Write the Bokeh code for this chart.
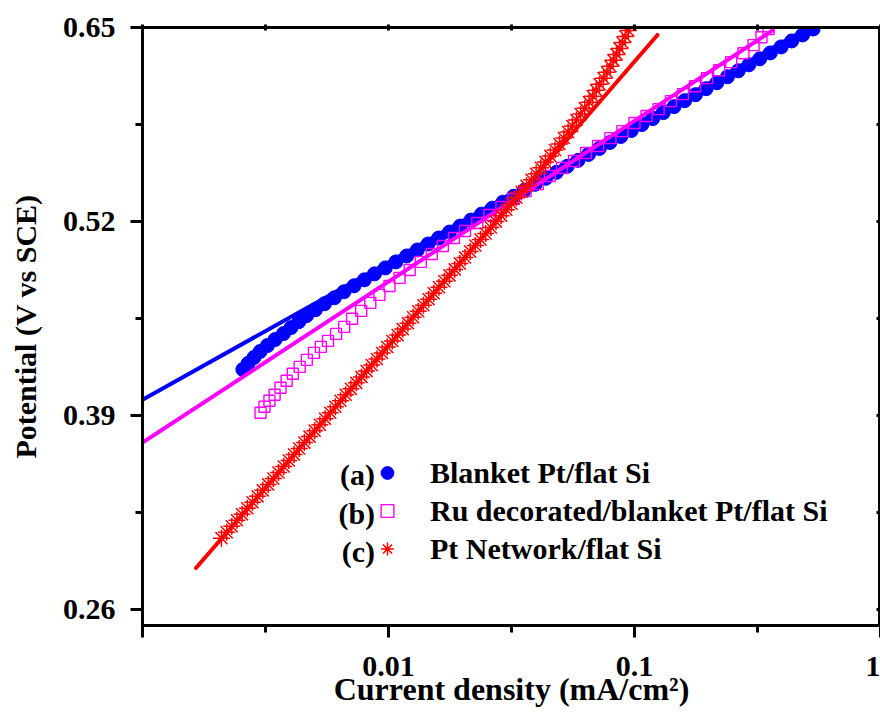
import numpy as np
from bokeh.plotting import figure
from bokeh.models import (Range1d, FixedTicker, LinearAxis, LogAxis, CustomJSTickFormatter,
                          PrintfTickFormatter, Legend, LegendItem, Label)
from bokeh.embed import file_html
from bokeh.resources import INLINE

# ---------------- data ----------------
# (a) Blanket Pt/flat Si : log10(current density, mA/cm2) and potential (V vs SCE)
blanket_log_j = [-2.592, -2.571, -2.547, -2.522, -2.492, -2.461, -2.427, -2.396, -2.364, -2.333,
                 -2.297, -2.260, -2.220, -2.181, -2.140, -2.098, -2.057, -2.013, -1.970, -1.926,
                 -1.883, -1.839, -1.796, -1.752, -1.709, -1.665, -1.622, -1.578, -1.535, -1.491,
                 -1.448, -1.404, -1.361, -1.317, -1.274, -1.230, -1.187, -1.143, -1.100, -1.056,
                 -1.013, -0.970, -0.926, -0.883, -0.839, -0.796, -0.752, -0.709, -0.665, -0.622,
                 -0.578, -0.535, -0.491, -0.448, -0.404, -0.361, -0.317, -0.274]
blanket_v = [0.421, 0.425, 0.429, 0.433, 0.437, 0.441, 0.445, 0.449, 0.453, 0.457,
             0.461, 0.465, 0.469, 0.473, 0.477, 0.481, 0.485, 0.489, 0.493, 0.497,
             0.501, 0.505, 0.509, 0.513, 0.517, 0.521, 0.525, 0.529, 0.533, 0.537,
             0.541, 0.545, 0.549, 0.553, 0.557, 0.561, 0.565, 0.569, 0.573, 0.577,
             0.581, 0.585, 0.589, 0.593, 0.597, 0.601, 0.605, 0.609, 0.613, 0.617,
             0.621, 0.625, 0.629, 0.633, 0.637, 0.641, 0.645, 0.649]

# (b) Ru decorated/blanket Pt/flat Si
ru_log_j = [-2.520, -2.504, -2.484, -2.463, -2.439, -2.414, -2.389, -2.361, -2.332, -2.303,
            -2.275, -2.246, -2.213, -2.180, -2.148, -2.111, -2.074, -2.037, -1.996, -1.955,
            -1.914, -1.869, -1.824, -1.779, -1.734, -1.689, -1.639, -1.590, -1.541, -1.492,
            -1.443, -1.393, -1.344, -1.295, -1.246, -1.197, -1.148, -1.098, -1.049, -1.000,
            -0.951, -0.902, -0.852, -0.803, -0.754, -0.705, -0.656, -0.607, -0.557, -0.516,
            -0.484, -0.455]
ru_v = [0.3920, 0.3960, 0.4000, 0.4040, 0.4087, 0.4134, 0.4181, 0.4227, 0.4274, 0.4321,
        0.4361, 0.4401, 0.4448, 0.4495, 0.4549, 0.4602, 0.4656, 0.4709, 0.4769, 0.4823,
        0.4876, 0.4930, 0.4983, 0.5037, 0.5090, 0.5137, 0.5191, 0.5244, 0.5298, 0.5351,
        0.5405, 0.5452, 0.5505, 0.5559, 0.5606, 0.5659, 0.5706, 0.5759, 0.5806, 0.5860,
        0.5907, 0.5953, 0.6007, 0.6054, 0.6107, 0.6161, 0.6214, 0.6268, 0.6328, 0.6382,
        0.6435, 0.6489]

# (c) Pt Network/flat Si
net_log_j = [-2.679, -2.658, -2.637, -2.616, -2.595, -2.574, -2.553, -2.532, -2.511, -2.489,
             -2.468, -2.447, -2.426, -2.405, -2.384, -2.363, -2.342, -2.321, -2.300, -2.279,
             -2.258, -2.237, -2.216, -2.195, -2.174, -2.153, -2.131, -2.110, -2.089, -2.068,
             -2.047, -2.026, -2.005, -1.984, -1.963, -1.942, -1.921, -1.900, -1.879, -1.858,
             -1.837, -1.816, -1.795, -1.773, -1.752, -1.731, -1.710, -1.689, -1.668, -1.647,
             -1.626, -1.605, -1.584, -1.563, -1.542, -1.521, -1.500, -1.480, -1.459, -1.439,
             -1.419, -1.400, -1.381, -1.362, -1.342, -1.323, -1.305, -1.287, -1.270, -1.253,
             -1.236, -1.219, -1.202, -1.185, -1.170, -1.156, -1.142, -1.126, -1.112, -1.098,
             -1.086, -1.073, -1.061, -1.049, -1.037, -1.025]
net_v = [0.308, 0.312, 0.316, 0.320, 0.324, 0.328, 0.332, 0.336, 0.340, 0.344,
         0.348, 0.352, 0.356, 0.360, 0.364, 0.368, 0.372, 0.376, 0.380, 0.384,
         0.388, 0.392, 0.396, 0.400, 0.404, 0.408, 0.412, 0.416, 0.420, 0.424,
         0.428, 0.432, 0.436, 0.440, 0.444, 0.448, 0.452, 0.456, 0.460, 0.464,
         0.468, 0.472, 0.476, 0.480, 0.484, 0.488, 0.492, 0.496, 0.500, 0.504,
         0.508, 0.512, 0.516, 0.520, 0.524, 0.528, 0.532, 0.536, 0.540, 0.544,
         0.548, 0.552, 0.556, 0.560, 0.564, 0.568, 0.572, 0.576, 0.580, 0.584,
         0.588, 0.592, 0.596, 0.600, 0.604, 0.608, 0.612, 0.616, 0.620, 0.624,
         0.628, 0.632, 0.636, 0.640, 0.644, 0.648]

# Tafel fit lines (end points)
blanket_fit_j = [0.001, 0.513]
blanket_fit_v = [0.4007, 0.650]
ru_fit_j = [0.001, 0.364]
ru_fit_v = [0.372, 0.648]
net_fit_j = [0.00165, 0.124]
net_fit_v = [0.288, 0.645]

labels = ["Blanket Pt/flat Si", "Ru decorated/blanket Pt/flat Si", "Pt Network/flat Si"]
tags = ["(a)", "(b)", "(c)"]

x_major = [0.001, 0.01, 0.1, 1]
x_minor = [0.00316, 0.0316, 0.316]
y_major = [0.26, 0.39, 0.52, 0.65]
y_minor = [0.325, 0.455, 0.585]

# ---------------- figure ----------------
FONT = "Liberation Serif"
BLUE, PINK, RED = "#0000FF", "#FF00FF", "#FF0000"

p = figure(width=880, height=718, x_axis_type="log",
           x_range=Range1d(0.001, 1), y_range=Range1d(0.2495, 0.65),
           output_backend="svg", toolbar_location=None,
           min_border_left=142, min_border_right=0, min_border_top=27, min_border_bottom=93)
p.grid.visible = False
p.outline_line_color = "black"
p.outline_line_width = 3
p.background_fill_color = "white"
p.border_fill_color = "white"

rb = p.scatter(10 ** np.array(blanket_log_j), blanket_v, marker="circle", size=14,
               fill_color=BLUE, line_color=BLUE)
p.line(blanket_fit_j, blanket_fit_v, line_color=BLUE, line_width=4, line_cap="round")
rp = p.scatter(10 ** np.array(ru_log_j), ru_v, marker="square", size=11,
               fill_color=None, line_color=PINK, line_width=1.4)
p.line(ru_fit_j, ru_fit_v, line_color=PINK, line_width=4, line_cap="round")
rr = p.scatter(10 ** np.array(net_log_j), net_v, marker="asterisk", size=17,
               line_color=RED, line_width=1.5)
p.line(net_fit_j, net_fit_v, line_color=RED, line_width=4, line_cap="round")

# bottom axis
xa = p.xaxis[0]
xa.ticker = FixedTicker(ticks=x_major, minor_ticks=x_minor)
xa.formatter = CustomJSTickFormatter(code="return tick < 0.005 ? '' : String(tick);")
xa.axis_label = "Current density (mA/cm²)"
xa.major_tick_out = 12
xa.major_tick_in = 0
xa.minor_tick_out = 7
xa.minor_tick_in = 0
xa.axis_line_width = 3
xa.major_tick_line_width = 3
xa.minor_tick_line_width = 3
xa.major_label_standoff = 19
xa.axis_label_standoff = -8
xa.major_label_text_font = FONT
xa.major_label_text_font_style = "bold"
xa.major_label_text_font_size = "30px"
xa.major_label_text_color = "black"
xa.axis_label_text_font = FONT
xa.axis_label_text_font_style = "bold"
xa.axis_label_text_font_size = "32px"
xa.axis_label_text_color = "black"

# left axis
ya = p.yaxis[0]
ya.ticker = FixedTicker(ticks=y_major, minor_ticks=y_minor)
ya.formatter = PrintfTickFormatter(format="%.2f")
ya.axis_label = "Potential (V vs SCE)"
ya.major_tick_out = 12
ya.major_tick_in = 0
ya.minor_tick_out = 7
ya.minor_tick_in = 0
ya.axis_line_width = 3
ya.major_tick_line_width = 3
ya.minor_tick_line_width = 3
ya.major_label_standoff = 15
ya.axis_label_standoff = 18
ya.major_label_text_font = FONT
ya.major_label_text_font_style = "bold"
ya.major_label_text_font_size = "30px"
ya.major_label_text_color = "black"
ya.axis_label_text_font = FONT
ya.axis_label_text_font_style = "bold"
ya.axis_label_text_font_size = "30px"
ya.axis_label_text_color = "black"

# mirrored top / right axes (ticks only)
empty = CustomJSTickFormatter(code="return '';")
top = LogAxis(ticker=FixedTicker(ticks=x_major, minor_ticks=x_minor), formatter=empty,
              major_tick_in=3, major_tick_out=3, minor_tick_in=3, minor_tick_out=3,
              axis_line_width=3, major_tick_line_width=3, minor_tick_line_width=3,
              major_label_standoff=0, major_label_text_font_size="1px")
p.add_layout(top, "above")
right = LinearAxis(ticker=FixedTicker(ticks=y_major, minor_ticks=y_minor), formatter=empty,
                   major_tick_in=4, major_tick_out=0, minor_tick_in=4, minor_tick_out=0,
                   axis_line_width=3, major_tick_line_width=3, minor_tick_line_width=3,
                   major_label_standoff=0, major_label_text_font_size="1px")
p.add_layout(right, "right")

# legend
legend = Legend(items=[LegendItem(label=labels[0], renderers=[rb]),
                       LegendItem(label=labels[1], renderers=[rp]),
                       LegendItem(label=labels[2], renderers=[rr])],
                location=(229, 59), orientation="vertical", padding=0, margin=0, spacing=3,
                glyph_width=32, glyph_height=35, label_height=35, label_standoff=27,
                border_line_color=None, background_fill_alpha=0,
                label_text_font=FONT, label_text_font_style="bold",
                label_text_font_size="30px", label_text_color="black")
p.add_layout(legend)

tag_x = 0.00882
tag_y = [0.3503, 0.3248, 0.2991]
for t, ty in zip(tags, tag_y):
    p.add_layout(Label(x=tag_x, y=ty, text=t, text_align="right", text_baseline="middle",
                       text_font=FONT, text_font_style="bold", text_font_size="30px",
                       text_color="black"))

open("out.html", "w").write(file_html(p, INLINE))
